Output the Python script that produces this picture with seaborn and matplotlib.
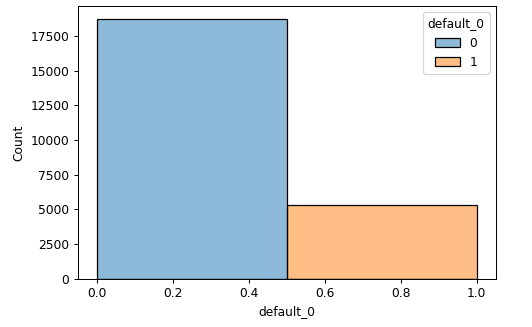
import matplotlib
matplotlib.use("Agg")
import matplotlib.pyplot as plt
import seaborn as sns
import pandas as pd

categories = [0, 1]
counts = [18691, 5309]

df = pd.DataFrame({"default_0": categories, "weight": counts})

W, H = 532, 327
DPI = 88.6
fig = plt.figure(figsize=(W / DPI, H / DPI), dpi=DPI)
left, right, top, bottom = 77.7, 495.7, 6.3, 278.7
ax = fig.add_axes([left / W, (H - bottom) / H, (right - left) / W, (bottom - top) / H])
sns.histplot(data=df, x="default_0", weights="weight", hue="default_0", bins=2, ax=ax)
fig.savefig("out.png", dpi=DPI)
